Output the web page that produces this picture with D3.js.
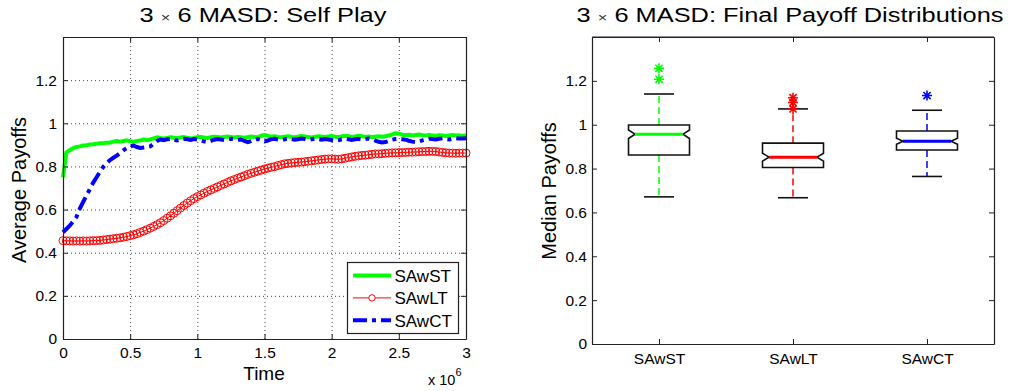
<!DOCTYPE html>
<html>
<head>
<meta charset="utf-8">
<script src="https://cdn.jsdelivr.net/npm/d3@7"></script>
<style>
body{margin:0;background:#fff;}
svg{display:block;font-family:"Liberation Sans",Arial,Helvetica,sans-serif;}
</style>
</head>
<body>
<svg id="chart" width="1011" height="391"></svg>
<script>
// ---- data: self play curves (time in units of 1e6, step 0.025) ----
var timeStep = 0.025;
var timeTicks = [0, 0.5, 1, 1.5, 2, 2.5, 3];
var payoffTicks = [0, 0.2, 0.4, 0.6, 0.8, 1, 1.2];

var sawstPayoff = [
 0.750,0.865,0.875,0.885,0.890,0.893,0.897,0.898,0.902,0.903,
 0.905,0.907,0.908,0.910,0.911,0.915,0.918,0.915,0.918,0.921,
 0.917,0.914,0.918,0.920,0.925,0.922,0.925,0.930,0.935,0.932,
 0.930,0.932,0.935,0.933,0.931,0.934,0.936,0.933,0.930,0.932,
 0.935,0.937,0.934,0.932,0.935,0.938,0.936,0.934,0.937,0.939,
 0.936,0.934,0.937,0.935,0.933,0.936,0.939,0.937,0.935,0.942,
 0.946,0.941,0.938,0.940,0.937,0.935,0.938,0.940,0.937,0.935,
 0.938,0.941,0.939,0.936,0.934,0.937,0.940,0.938,0.936,0.939,
 0.941,0.938,0.936,0.939,0.942,0.940,0.937,0.939,0.942,0.940,
 0.937,0.939,0.936,0.938,0.940,0.938,0.940,0.943,0.948,0.954,
 0.952,0.947,0.945,0.947,0.944,0.946,0.948,0.945,0.943,0.946,
 0.944,0.942,0.945,0.943,0.941,0.944,0.946,0.943,0.944,0.942,
 0.944];

var sawltPayoff = [
 0.456,0.455,0.455,0.454,0.455,0.454,0.455,0.454,0.455,0.456,
 0.456,0.457,0.459,0.461,0.463,0.465,0.467,0.469,0.472,0.475,
 0.479,0.483,0.488,0.494,0.500,0.507,0.514,0.522,0.530,0.539,
 0.549,0.560,0.571,0.583,0.595,0.607,0.619,0.630,0.641,0.651,
 0.660,0.668,0.676,0.684,0.691,0.698,0.705,0.712,0.719,0.726,
 0.733,0.739,0.745,0.751,0.757,0.763,0.768,0.773,0.778,0.783,
 0.788,0.792,0.796,0.799,0.804,0.808,0.812,0.814,0.816,0.818,
 0.819,0.820,0.822,0.824,0.826,0.828,0.830,0.832,0.834,0.835,
 0.835,0.834,0.833,0.835,0.838,0.841,0.844,0.847,0.849,0.851,
 0.852,0.854,0.856,0.858,0.858,0.859,0.861,0.862,0.863,0.863,
 0.864,0.864,0.865,0.866,0.866,0.867,0.868,0.869,0.869,0.870,
 0.870,0.869,0.867,0.865,0.863,0.862,0.862,0.861,0.862,0.862,
 0.862];

var sawctPayoff = [
 0.495,0.510,0.525,0.545,0.565,0.605,0.635,0.665,0.695,0.725,
 0.750,0.775,0.798,0.815,0.830,0.840,0.850,0.862,0.875,0.885,
 0.893,0.897,0.890,0.886,0.888,0.890,0.893,0.905,0.918,0.925,
 0.922,0.926,0.928,0.924,0.920,0.925,0.928,0.926,0.923,0.927,
 0.925,0.920,0.916,0.913,0.918,0.924,0.927,0.925,0.922,0.926,
 0.928,0.926,0.923,0.925,0.918,0.913,0.917,0.924,0.927,0.922,
 0.916,0.920,0.926,0.928,0.925,0.922,0.926,0.929,0.927,0.924,
 0.926,0.929,0.927,0.923,0.926,0.929,0.927,0.924,0.927,0.925,
 0.922,0.918,0.921,0.926,0.928,0.926,0.923,0.926,0.928,0.925,
 0.927,0.929,0.926,0.920,0.914,0.911,0.913,0.918,0.924,0.927,
 0.928,0.926,0.924,0.919,0.915,0.913,0.916,0.921,0.925,0.928,
 0.927,0.925,0.928,0.930,0.927,0.925,0.928,0.931,0.929,0.930,
 0.931];

// ---- data: final payoff distributions ----
var categories = ["SAwST", "SAwLT", "SAwCT"];
var boxQ1 = [0.862, 0.805, 0.885];
var boxMedian = [0.957, 0.852, 0.925];
var boxQ3 = [0.999, 0.916, 0.971];
var notchLow = [0.937, 0.834, 0.911];
var notchHigh = [0.976, 0.870, 0.938];
var whiskerLow = [0.671, 0.667, 0.764];
var whiskerHigh = [1.140, 1.072, 1.066];
var outliers = [[1.207, 1.257], [1.072, 1.101, 1.123], [1.133]];

var seriesColors = ["#00ff00", "#ff0000", "#0000ff"];

var svg = d3.select("#chart");
var TICK = 5;
var fmt = d3.format("~g");

function styleAxis(g, size){
    g.attr("font-family", null).attr("font-size", size);
    g.select(".domain").attr("stroke", "#222").attr("stroke-width", 1.2);
    g.selectAll(".tick line").attr("stroke", "#222");
    g.selectAll("text").attr("fill", "#000");
}

// the titles in the picture are drawn wider than the font
function addTitle(g, x, rest){
    var t = g.append("text").attr("transform", "translate(" + x + ",22) scale(1.27,1)")
        .attr("text-anchor", "middle").attr("font-size", 20);
    t.append("tspan").text("3 ");
    t.append("tspan").attr("font-size", 13).attr("fill", "#333").text("×");
    t.append("tspan").text(" 6 MASD: " + rest);
}

// ================= left: self play =================
var lx = d3.scaleLinear().domain([0, 3]).range([63, 466]);
var ly = d3.scaleLinear().domain([0, 1.4]).range([339, 37]);
var gl = svg.append("g");

// grid
gl.append("g")
    .attr("transform", "translate(0," + ly.range()[0] + ")")
    .call(d3.axisBottom(lx).tickValues(timeTicks).tickSize(-(ly.range()[0] - ly.range()[1])).tickFormat(""))
    .call(function(g){ g.select(".domain").remove(); })
    .selectAll("line").attr("stroke", "#444").attr("stroke-dasharray", "1,3");
gl.append("g")
    .attr("transform", "translate(" + lx.range()[0] + ",0)")
    .call(d3.axisLeft(ly).tickValues(payoffTicks).tickSize(-(lx.range()[1] - lx.range()[0])).tickFormat(""))
    .call(function(g){ g.select(".domain").remove(); })
    .selectAll("line").attr("stroke", "#444").attr("stroke-dasharray", "1,3");

function lineFor(){
    return d3.line()
        .x(function(d, i){ return lx(i * timeStep); })
        .y(function(d){ return ly(d); });
}

// SAwST
gl.append("path").datum(sawstPayoff)
    .attr("d", lineFor())
    .attr("fill", "none").attr("stroke", seriesColors[0]).attr("stroke-width", 4)
    .attr("stroke-linejoin", "round");

// SAwLT
gl.append("path").datum(sawltPayoff)
    .attr("d", lineFor())
    .attr("fill", "none").attr("stroke", seriesColors[1]).attr("stroke-width", 1);
gl.append("g").selectAll("circle").data(sawltPayoff).enter().append("circle")
    .attr("cx", function(d, i){ return lx(i * timeStep); })
    .attr("cy", function(d){ return ly(d); })
    .attr("r", 4)
    .attr("fill", "none").attr("stroke", seriesColors[1]).attr("stroke-width", 1);

// SAwCT
gl.append("path").datum(sawctPayoff)
    .attr("d", lineFor())
    .attr("fill", "none").attr("stroke", seriesColors[2]).attr("stroke-width", 4)
    .attr("stroke-dasharray", "14,5,4,5");

// axes (ticks inward on all four sides)
gl.append("g").attr("transform", "translate(0," + ly.range()[0] + ")")
    .call(d3.axisBottom(lx).tickValues(timeTicks).tickFormat(fmt).tickSizeInner(-TICK).tickSizeOuter(0).tickPadding(8))
    .call(styleAxis, 15.5);
gl.append("g").attr("transform", "translate(0," + ly.range()[1] + ")")
    .call(d3.axisTop(lx).tickValues(timeTicks).tickSizeInner(-TICK).tickSizeOuter(0).tickFormat(""))
    .call(styleAxis, 15.5);
gl.append("g").attr("transform", "translate(" + lx.range()[0] + ",0)")
    .call(d3.axisLeft(ly).tickValues(payoffTicks).tickFormat(fmt).tickSizeInner(-TICK).tickSizeOuter(0).tickPadding(6))
    .call(styleAxis, 15.5);
gl.append("g").attr("transform", "translate(" + lx.range()[1] + ",0)")
    .call(d3.axisRight(ly).tickValues(payoffTicks).tickSizeInner(-TICK).tickSizeOuter(0).tickFormat(""))
    .call(styleAxis, 15.5);

// titles and labels
addTitle(gl, 263, "Self Play");
gl.append("text").attr("x", 264).attr("y", 380).attr("text-anchor", "middle").attr("font-size", 19).text("Time");
gl.append("text").attr("transform", "translate(26,190) rotate(-90)").attr("text-anchor", "middle")
    .attr("font-size", 20).text("Average Payoffs");
var sci = gl.append("text").attr("x", 428).attr("y", 385).attr("font-size", 14.5);
sci.append("tspan").text("x 10");
sci.append("tspan").attr("font-size", 11).attr("dy", -9).text("6");

// legend
var legendNames = ["SAwST", "SAwLT", "SAwCT"];
var lg = gl.append("g").attr("transform", "translate(" + (lx.range()[1] - 119) + "," + (ly.range()[0] - 77) + ")");
lg.append("rect").attr("x", 0.5).attr("y", 0.5).attr("width", 111).attr("height", 71)
    .attr("fill", "#fff").attr("stroke", "#222").attr("stroke-width", 1.2);
legendNames.forEach(function(name, i){
    var yy = 13.5 + i * 22.4;
    var ln = lg.append("line").attr("x1", 6).attr("x2", 44).attr("y1", yy).attr("y2", yy)
        .attr("stroke", seriesColors[i]);
    if (i === 0) ln.attr("stroke-width", 4);
    if (i === 1) {
        ln.attr("stroke-width", 1);
        lg.append("circle").attr("cx", 25).attr("cy", yy).attr("r", 3.2)
            .attr("fill", "#fff").attr("stroke", seriesColors[i]);
    }
    if (i === 2) ln.attr("stroke-width", 4).attr("stroke-dasharray", "14,5,4,5");
    lg.append("text").attr("x", 47.5).attr("y", yy + 6.5).attr("font-size", 17).text(name);
});

// ================= right: box plots =================
var rx = d3.scalePoint().domain(categories).range([592, 994]).padding(0.5);
var ry = d3.scaleLinear().domain([0, 1.4]).range([344, 37]);
var gr = svg.append("g");
var BOXW = 61, NOTCH = 6.5, CAPW = 30;

categories.forEach(function(cat, i){
    var cx = rx(cat), l = cx - BOXW / 2, r = cx + BOXW / 2;
    var col = seriesColors[i];
    // whiskers
    gr.append("line").attr("x1", cx).attr("x2", cx).attr("y1", ry(boxQ3[i])).attr("y2", ry(whiskerHigh[i]))
        .attr("stroke", col).attr("stroke-width", 1.5).attr("stroke-dasharray", "7,4");
    gr.append("line").attr("x1", cx).attr("x2", cx).attr("y1", ry(boxQ1[i])).attr("y2", ry(whiskerLow[i]))
        .attr("stroke", col).attr("stroke-width", 1.5).attr("stroke-dasharray", "7,4");
    [whiskerHigh[i], whiskerLow[i]].forEach(function(v){
        gr.append("line").attr("x1", cx - CAPW / 2).attr("x2", cx + CAPW / 2).attr("y1", ry(v)).attr("y2", ry(v))
            .attr("stroke", "#111").attr("stroke-width", 1.6);
    });
    // notched box
    var p = d3.path();
    p.moveTo(l, ry(boxQ3[i]));
    p.lineTo(r, ry(boxQ3[i]));
    p.lineTo(r, ry(notchHigh[i]));
    p.lineTo(r - NOTCH, ry(boxMedian[i]));
    p.lineTo(r, ry(notchLow[i]));
    p.lineTo(r, ry(boxQ1[i]));
    p.lineTo(l, ry(boxQ1[i]));
    p.lineTo(l, ry(notchLow[i]));
    p.lineTo(l + NOTCH, ry(boxMedian[i]));
    p.lineTo(l, ry(notchHigh[i]));
    p.closePath();
    gr.append("path").attr("d", p.toString()).attr("fill", "none").attr("stroke", "#111").attr("stroke-width", 1.6);
    // median
    gr.append("line").attr("x1", l + NOTCH).attr("x2", r - NOTCH)
        .attr("y1", ry(boxMedian[i])).attr("y2", ry(boxMedian[i]))
        .attr("stroke", col).attr("stroke-width", 3);
    // outliers as asterisks
    outliers[i].forEach(function(v){
        var oy = ry(v), s = 5, d = 3.6;
        var ap = d3.path();
        ap.moveTo(cx - s, oy); ap.lineTo(cx + s, oy);
        ap.moveTo(cx, oy - s); ap.lineTo(cx, oy + s);
        ap.moveTo(cx - d, oy - d); ap.lineTo(cx + d, oy + d);
        ap.moveTo(cx - d, oy + d); ap.lineTo(cx + d, oy - d);
        gr.append("path").attr("d", ap.toString()).attr("stroke", col).attr("stroke-width", 1.6).attr("fill", "none");
    });
});

gr.append("g").attr("transform", "translate(0," + ry.range()[0] + ")")
    .call(d3.axisBottom(rx).tickSizeInner(-TICK).tickSizeOuter(0).tickPadding(9))
    .call(styleAxis, 15.5);
gr.append("g").attr("transform", "translate(0," + ry.range()[1] + ")")
    .call(d3.axisTop(rx).tickSizeInner(-TICK).tickSizeOuter(0).tickFormat(""))
    .call(styleAxis, 15.5);
gr.append("g").attr("transform", "translate(" + rx.range()[0] + ",0)")
    .call(d3.axisLeft(ry).tickValues(payoffTicks).tickFormat(fmt).tickSizeInner(-TICK).tickSizeOuter(0).tickPadding(5))
    .call(styleAxis, 15.5);
gr.append("g").attr("transform", "translate(" + rx.range()[1] + ",0)")
    .call(d3.axisRight(ry).tickValues(payoffTicks).tickSizeInner(-TICK).tickSizeOuter(0).tickFormat(""))
    .call(styleAxis, 15.5);
// the point scale axis draws no line past the end ticks; close the box
gr.append("line").attr("x1", rx.range()[0]).attr("x2", rx.range()[1]).attr("y1", ry.range()[1]).attr("y2", ry.range()[1])
    .attr("stroke", "#222").attr("stroke-width", 1.2);

addTitle(gr, 790, "Final Payoff Distributions");
gr.append("text").attr("transform", "translate(556,191) rotate(-90)").attr("text-anchor", "middle")
    .attr("font-size", 20).text("Median Payoffs");
</script>
</body>
</html>
